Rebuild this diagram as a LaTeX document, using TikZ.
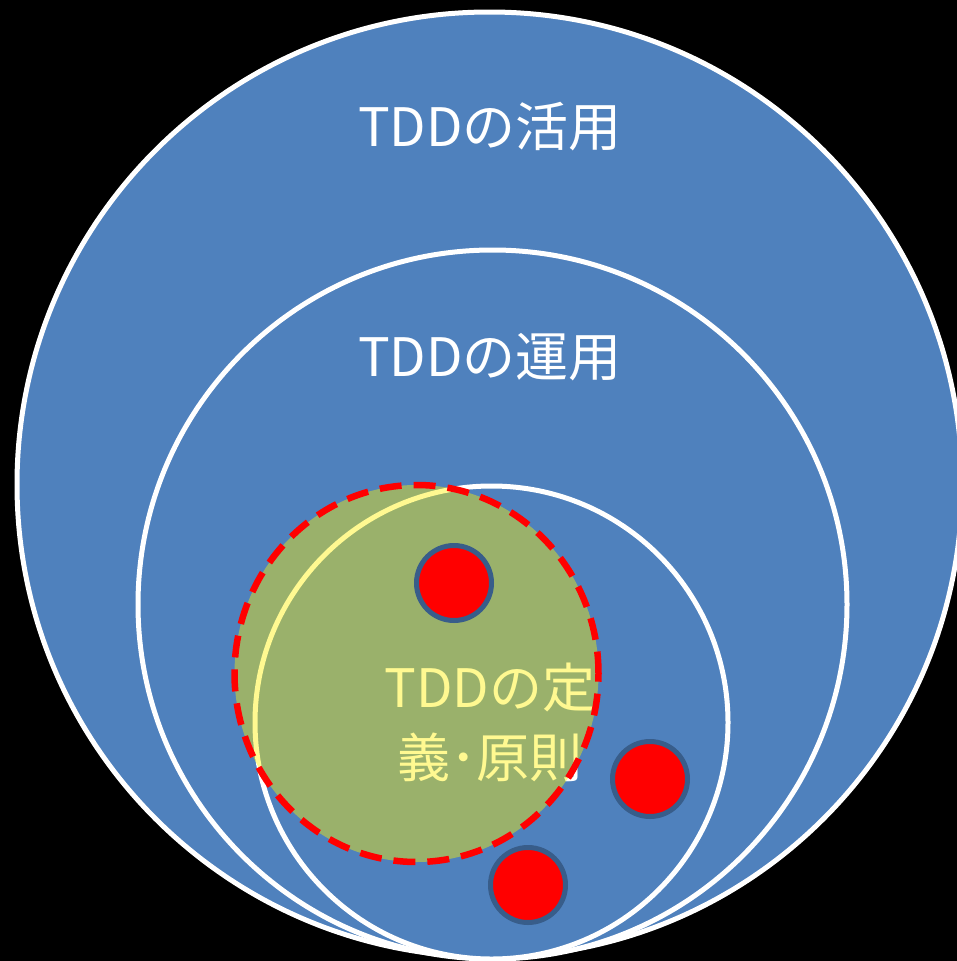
\documentclass[tikz,border=0pt]{standalone}
\usepackage{fontspec}
\setmainfont{Noto Sans CJK JP}
\usetikzlibrary{shapes.geometric}
\definecolor{ppblue}{HTML}{4F81BD}
\definecolor{dotedge}{HTML}{385D8A}
\begin{document}
\begin{tikzpicture}[x=1pt,y=-1pt,
  ring/.style={circle, draw=white, fill=ppblue, line width=5pt, inner sep=0pt},
  lbl/.style={text=white, font=\fontsize{53}{70}\selectfont, align=center, inner sep=0pt},
  reddot/.style={circle, draw=dotedge, fill=red, line width=5pt, inner sep=0pt, minimum size=75pt},
  core/.style={ellipse, draw=red, line width=6.5pt, dash pattern=on 22pt off 12pt, fill=yellow, fill opacity=0.43, draw opacity=1, inner sep=0pt}]
\useasboundingbox (0,0) rectangle (957,961);
\fill[black] (0,0) rectangle (957,961);
\clip (0,0) rectangle (957,961);
\node[ring, minimum size=945pt] (outer) at (489.5,484.5) {};
\node[ring, minimum size=709pt] (middle) at (492.5,604.5) {};
\node[ring, minimum size=473pt] (inner) at (491.5,722.5) {};
\node[lbl] (t1) at (490,127) {TDDの活用};
\node[lbl] (t2) at (490,357) {TDDの運用};
\node[lbl] (t3) at (490,722) {TDDの定\\義･原則};
\node[core, minimum width=364pt, minimum height=377pt] (def) at (416.5,673.5) {};
\node[reddot] (d1) at (454,583) {};
\node[reddot] (d2) at (650,779) {};
\node[reddot] (d3) at (528,885) {};
\end{tikzpicture}
\end{document}
